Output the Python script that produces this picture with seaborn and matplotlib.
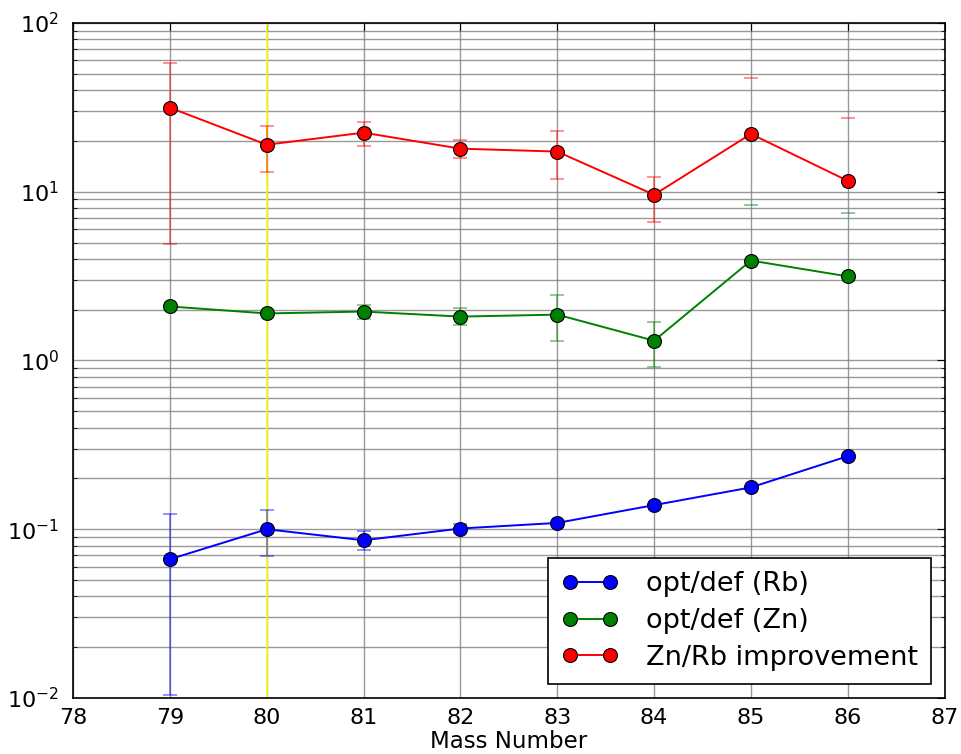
import numpy as np
import pandas as pd
import matplotlib
matplotlib.use('Agg')
import matplotlib.pyplot as plt
import seaborn as sns

# values
mass = [79, 80, 81, 82, 83, 84, 85, 86]

rb = [0.0664, 0.100, 0.086, 0.101, 0.109, 0.139, 0.177, 0.271]
rb_lo = [0.0104, 0.069, 0.075, 0.095, 0.109, 0.139, 0.177, 0.271]
rb_hi = [0.123, 0.130, 0.098, 0.107, 0.109, 0.139, 0.177, 0.271]

# nan = lower bound below zero (not drawn on the log axis)
zn = [2.09, 1.90, 1.95, 1.82, 1.87, 1.31, 3.91, 3.15]
zn_lo = [2.09, 1.90, 1.75, 1.63, 1.30, 0.92, np.nan, np.nan]
zn_hi = [2.09, 1.90, 2.12, 2.04, 2.46, 1.70, 8.4, 7.5]

imp = [31.5, 19.0, 22.4, 18.0, 17.3, 9.6, 22.0, 11.6]
imp_lo = [4.9, 13.1, 18.7, 15.9, 11.9, 6.6, np.nan, np.nan]
imp_hi = [58.0, 24.6, 26.0, 20.3, 23.0, 12.3, 47.4, 27.4]

labels = ['opt/def (Rb)', 'opt/def (Zn)', 'Zn/Rb improvement']
colors = ['blue', 'green', 'red']

sns.set_style('white')
plt.rcParams['font.family'] = ['DejaVu Sans']
plt.rcParams.update({'text.color': 'black', 'axes.labelcolor': 'black',
                     'xtick.color': 'black', 'ytick.color': 'black'})

fig = plt.figure(figsize=(9.61, 7.54), dpi=100)
ax = fig.add_axes([0.076, 0.0743, 0.907, 0.8952])

df = pd.DataFrame({
    'mass': mass * 3,
    'value': rb + zn + imp,
    'series': [labels[0]] * 8 + [labels[1]] * 8 + [labels[2]] * 8,
})

series = [(rb, rb_lo, rb_hi), (zn, zn_lo, zn_hi), (imp, imp_lo, imp_hi)]
for (v, lo, hi), c in zip(series, colors):
    v = np.array(v)
    yerr = [v - np.array(lo), np.array(hi) - v]
    ax.errorbar(mass, v, yerr=yerr, fmt='none', ecolor=c, alpha=0.5,
                capsize=5, elinewidth=1.2, capthick=1.2, zorder=3)

sns.lineplot(data=df, x='mass', y='value', hue='series', palette=colors,
             marker='o', markersize=10, markeredgecolor='black',
             markeredgewidth=0.8, linewidth=1.4, ax=ax, zorder=4,
             legend=False)

ax.axvline(80, color='yellow', linewidth=1.2, zorder=2)

ax.set_yscale('log')
ax.set_xlim(78, 87)
ax.set_ylim(1e-2, 1e2)
ax.set_xticks(range(78, 88))
ax.grid(True, which='major', axis='both', color='gray', linewidth=1.0, alpha=0.8)
ax.grid(True, which='minor', axis='y', color='gray', linewidth=1.0, alpha=0.8)
ax.set_axisbelow(True)

ax.set_xlabel('Mass Number', fontsize=16.5, labelpad=2)
ax.set_ylabel('')
ax.tick_params(axis='both', which='major', labelsize=16, direction='in',
               length=6, top=True, right=True)
ax.tick_params(axis='x', which='major', pad=7)
ax.tick_params(axis='y', which='major', pad=10)
ax.tick_params(axis='y', which='minor', direction='in', length=3,
               left=True, right=True)
for s in ax.spines.values():
    s.set_linewidth(1.2)
    s.set_color('black')

handles = [plt.Line2D([0], [0], color=c, marker='o', markersize=10,
                      markeredgecolor='black', markeredgewidth=0.8,
                      linewidth=1.4) for c in colors]
leg = ax.legend(handles, labels, loc='lower right', fontsize=19.5, numpoints=2,
                frameon=True, fancybox=False, edgecolor='black',
                borderaxespad=0.5, handlelength=2.1, handletextpad=1.0,
                labelspacing=0.4, borderpad=0.5)
leg.get_frame().set_linewidth(1.2)
leg.get_frame().set_alpha(1)

fig.savefig('out.png', dpi=100)
